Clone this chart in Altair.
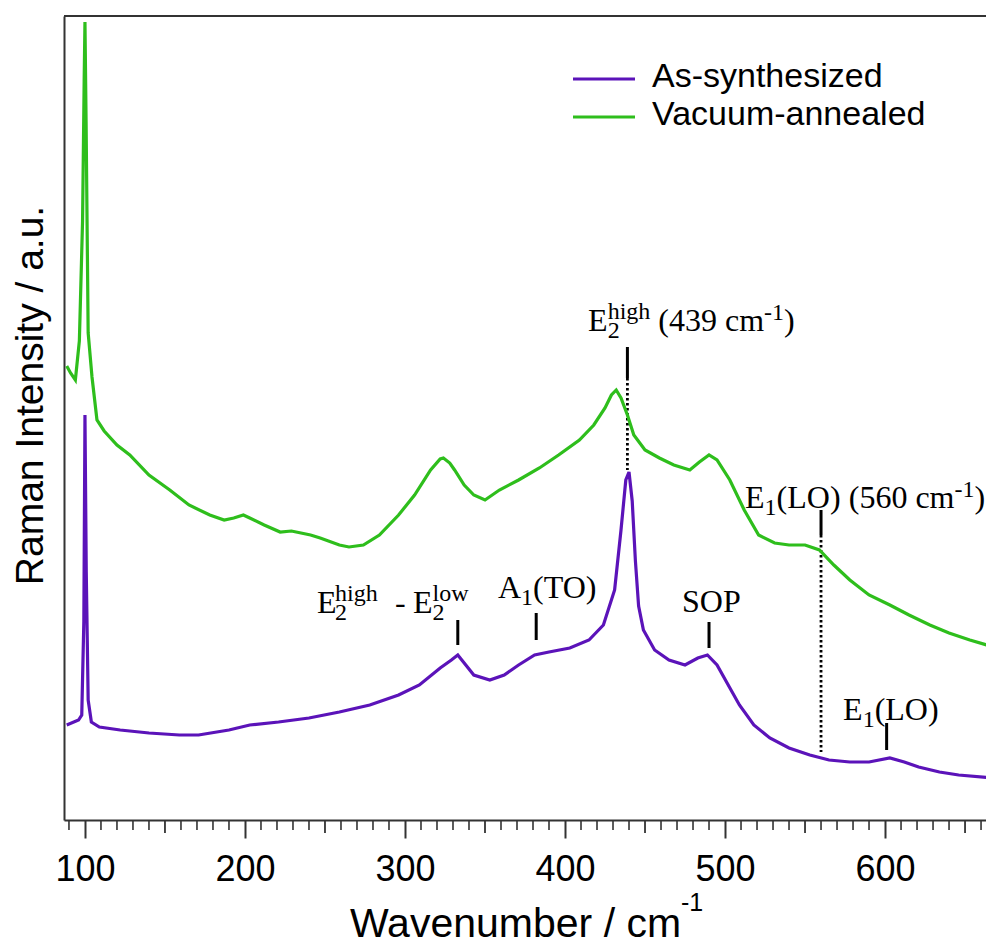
import altair as alt
import pandas as pd

# ---------------- data ----------------
series_names = ["As-synthesized", "Vacuum-annealed"]
series_colors = ["#5B13B9", "#2EBE1C"]

vac_wn = [88.6, 91, 94, 96.5, 98.5, 99.5, 100, 100.7, 102, 104.4,
          107.5, 112, 120, 128, 140, 153, 165, 178, 187, 193,
          199, 203, 212, 222, 229, 235, 241, 247, 259, 265,
          274, 284, 296, 306, 316, 322, 324, 328, 331, 337,
          343, 350, 359, 371, 384, 396, 409, 418, 425, 429,
          432, 435, 439, 443, 450, 459, 468, 478, 484, 490,
          495, 503, 512, 521, 531, 540, 550, 559, 568, 578,
          590, 603, 615, 628, 640, 653, 668]
vac_int = [455, 448, 441, 480, 600, 740, 799, 700, 488, 444,
           401, 390, 376, 366, 346, 331, 316, 306, 301, 303,
           306, 303, 296, 289, 290, 288, 286, 283, 276, 274,
           276, 286, 306, 326, 351, 362, 363, 358, 351, 336,
           326, 321, 331, 341, 353, 366, 381, 396, 413, 426,
           431, 423, 406, 386, 371, 363, 356, 351, 359, 366,
           361, 341, 311, 286, 278, 276, 276, 271, 256, 241,
           226, 216, 206, 196, 188, 181, 174]

syn_wn = [88.6, 96, 98, 99.3, 100, 100.8, 102, 104, 109, 122,
          140, 159, 171, 190, 203, 221, 240, 259, 278, 296,
          309, 322, 329, 333, 337, 343, 353, 362, 371, 381,
          390, 403, 415, 424, 431, 435, 438, 440, 442, 444,
          446, 449, 456, 465, 475, 483, 489, 495, 502, 509,
          518, 528, 540, 553, 565, 578, 590, 603, 612, 621,
          634, 646, 668]
syn_int = [96, 101, 106, 200, 406, 250, 121, 99, 94, 91,
           88, 86, 86, 91, 96, 99, 103, 109, 116, 126,
           136, 153, 161, 166, 158, 146, 141, 146, 156, 166,
           169, 173, 181, 196, 231, 291, 341, 349, 320, 260,
           215, 191, 171, 161, 156, 163, 166, 156, 136, 116,
           96, 83, 73, 66, 61, 59, 59, 63, 59, 54,
           49, 46, 43]

major_ticks = [100, 200, 300, 400, 500, 600]
minor_ticks = [v for v in range(90, 670, 10) if v % 100 != 0]

# peak marker ticks (solid) and guide lines (dotted)
tick_wn = [439, 560, 601, 490, 382, 333]
tick_top = [474, 311, 98, 199, 208, 201]
tick_bot = [443, 286, 71, 173, 181, 176]
dot_wn = [439, 560]
dot_top = [443, 286]
dot_bot = [351, 69]

# annotation anchors (label start, baseline)
ann_wn = [414.4, 512.5, 245.0, 358.1, 473.1, 573.75]
ann_int = [490, 313, 208, 223, 209, 101]
# pieces: (label index, text, dx, dy, size)
pieces = [
    (0, "E", 0, 0, 32), (0, "2", 19.6, 7, 24), (0, "high", 19.6, -12, 24),
    (0, "(439 cm", 70.3, 0, 32), (0, "-1", 176, -11, 24), (0, ")", 196, 0, 32),
    (1, "E", 0, 0, 32), (1, "1", 19.6, 7, 24), (1, "(LO)", 31.6, 0, 32),
    (1, "(560 cm", 103.7, 0, 32), (1, "-1", 209.5, -11, 24), (1, ")", 229.5, 0, 32),
    (2, "E", 0, 0, 32), (2, "2", 18, 7, 24), (2, "high", 18, -12, 24),
    (2, "-", 78, 0, 32), (2, "E", 96, 0, 32), (2, "2", 115.6, 7, 24), (2, "low", 115.6, -12, 24),
    (3, "A", 0, 0, 32), (3, "1", 23.1, 7, 24), (3, "(TO)", 35.1, 0, 32),
    (4, "SOP", 0, 0, 32),
    (5, "E", 0, 0, 32), (5, "1", 19.6, 7, 24), (5, "(LO)", 31.6, 0, 32),
]

# ---------------- layout ----------------
W, H = 922, 804
xs = alt.Scale(domain=[86.9, 663.1], nice=False, zero=False)
ys = alt.Scale(domain=[1, 805], nice=False, zero=False)
SANS = "Liberation Sans"
SERIF = "Liberation Serif"
AX = "#333333"

x_axis = alt.Axis(
    values=major_ticks, format="d", grid=False,
    labelFont=SANS, labelFontSize=36, labelColor="black", labelPadding=14, labelFlush=False,
    tickSize=18, tickWidth=2, tickColor=AX, domainColor=AX, domainWidth=2,
    title="Wavenumber / cm", titleFont=SANS, titleFontSize=41, titleFontWeight="normal",
    titleColor="black", titleX=451, titleY=116, titleAlign="center", titleBaseline="alphabetic")
y_axis = alt.Axis(
    ticks=False, labels=False, grid=False, domainColor=AX, domainWidth=2,
    title="Raman Intensity / a.u.", titleFont=SANS, titleFontSize=39, titleFontWeight="normal",
    titleColor="black", titleX=-22, titleY=379, titleAngle=270, titleAlign="center",
    titleBaseline="alphabetic")

spec = pd.concat([
    pd.DataFrame({"wn": syn_wn, "intensity": syn_int, "series": series_names[0]}),
    pd.DataFrame({"wn": vac_wn, "intensity": vac_int, "series": series_names[1]}),
])

lines = alt.Chart(spec).mark_line(strokeWidth=3.2, clip=True).encode(
    x=alt.X("wn:Q", scale=xs, axis=x_axis),
    y=alt.Y("intensity:Q", scale=ys, axis=y_axis),
    color=alt.Color("series:N", scale=alt.Scale(domain=series_names, range=series_colors), legend=None),
)

dots = alt.Chart(pd.DataFrame({"wn": dot_wn, "intensity": dot_top, "bot": dot_bot})).mark_rule(
    color="black", strokeWidth=2.8, strokeDash=[2.5, 2.5]).encode(
    x=alt.X("wn:Q", scale=xs, axis=x_axis),
    y=alt.Y("intensity:Q", scale=ys, axis=y_axis), y2="bot:Q")

ticks = alt.Chart(pd.DataFrame({"wn": tick_wn, "intensity": tick_top, "bot": tick_bot})).mark_rule(
    color="black", strokeWidth=3).encode(
    x=alt.X("wn:Q", scale=xs, axis=x_axis),
    y=alt.Y("intensity:Q", scale=ys, axis=y_axis), y2="bot:Q")

minor_df = pd.DataFrame({"wn": minor_ticks})
minor = alt.Chart(minor_df).transform_filter("datum.wn % 50 != 0").mark_rule(
    color=AX, strokeWidth=1.6).encode(
    x=alt.X("wn:Q", scale=xs, axis=x_axis), y=alt.value(H), y2=alt.value(H + 10))
mid = alt.Chart(minor_df).transform_filter("datum.wn % 50 == 0").mark_rule(
    color=AX, strokeWidth=1.8).encode(
    x=alt.X("wn:Q", scale=xs, axis=x_axis), y=alt.value(H), y2=alt.value(H + 13))

top_border = alt.Chart(pd.DataFrame({"a": [0]})).mark_rule(color=AX, strokeWidth=2).encode(
    x=alt.value(0), x2=alt.value(W), y=alt.value(0))

x_sup = alt.Chart(pd.DataFrame({"t": ["-1"]})).mark_text(
    font=SANS, fontSize=25, align="left", baseline="alphabetic", color="black").encode(
    x=alt.value(617), y=alt.value(895), text="t:N")

layers = [dots, lines, ticks, minor, mid, top_border, x_sup]

for (li, txt, dx, dy, size) in pieces:
    df = pd.DataFrame({"wn": [ann_wn[li]], "intensity": [ann_int[li]], "t": [txt]})
    layers.append(alt.Chart(df).mark_text(
        font=SERIF, fontSize=size, align="left", baseline="alphabetic", color="black",
        dx=dx, dy=dy).encode(
        x=alt.X("wn:Q", scale=xs, axis=x_axis),
        y=alt.Y("intensity:Q", scale=ys, axis=y_axis),
        text="t:N"))

for i, name in enumerate(series_names):
    ldf = pd.DataFrame({"series": [name]})
    layers.append(alt.Chart(ldf).mark_rule(strokeWidth=3.2, color=series_colors[i]).encode(
        x=alt.value(509), x2=alt.value(571), y=alt.value(63 + 38 * i)))
    layers.append(alt.Chart(ldf).mark_text(
        font=SANS, fontSize=34, align="left", baseline="alphabetic", color="black").encode(
        x=alt.value(588), y=alt.value(71 + 38 * i), text="series:N"))

chart = alt.layer(*layers).properties(
    width=W, height=H,
    padding={"left": 56, "top": 8, "right": 0, "bottom": 126},
    autosize=alt.AutoSizeParams(type="none"),
    background="white",
).configure_view(stroke=None)

chart.save("out.html", embed_options={"renderer": "svg", "actions": False})
